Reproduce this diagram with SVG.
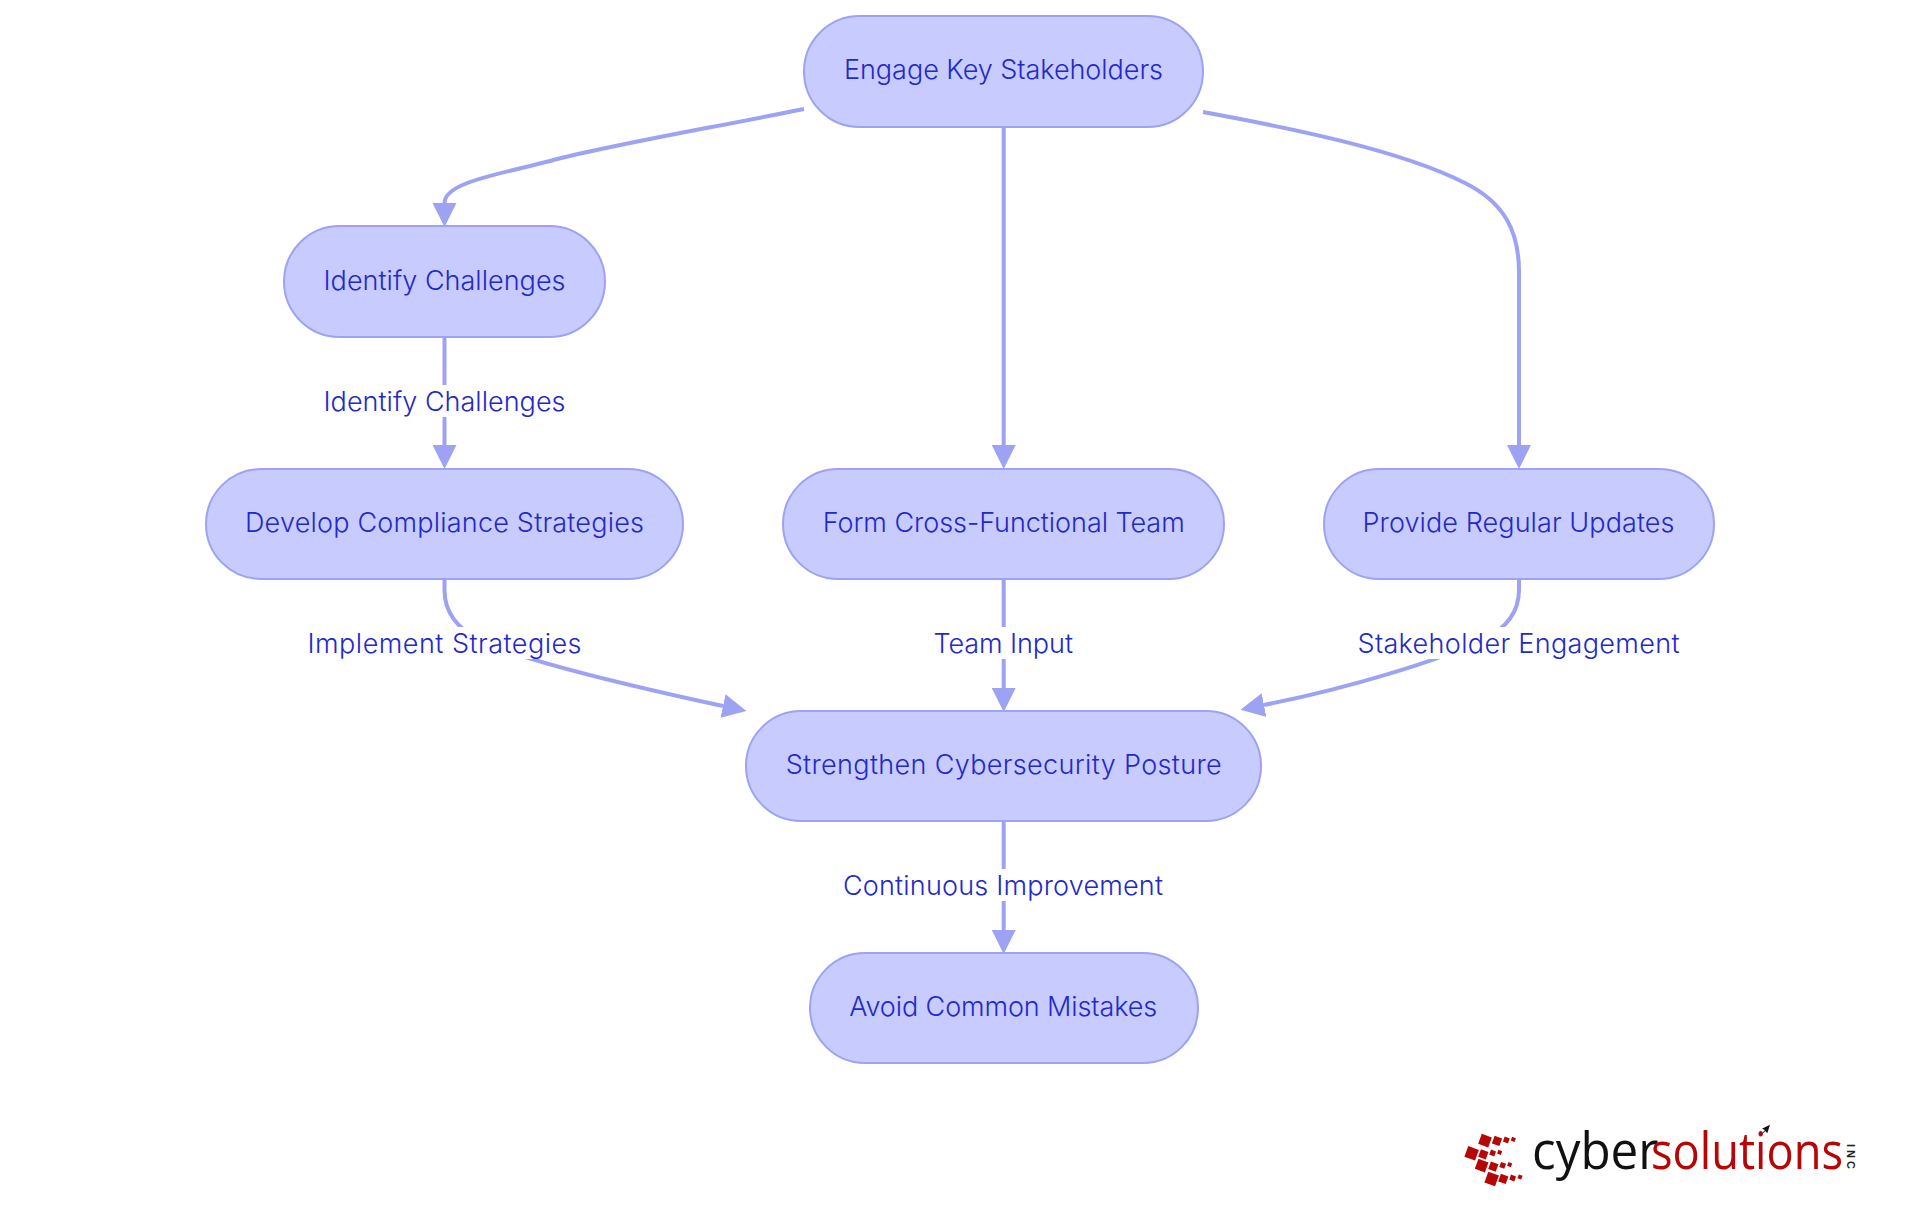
<svg xmlns="http://www.w3.org/2000/svg" width="1920" height="1215" viewBox="0 0 1920 1215">
<style>
.n{fill:#c8cbfd;stroke:#9ea2f2;stroke-width:2}
.c{fill:none;stroke:#9ea2f2;stroke-width:4;marker-end:url(#a)}
.t{font-family:Inter,"Noto Sans","Liberation Sans",sans-serif;font-size:27px;font-weight:300;fill:#2329c9;text-anchor:middle;dominant-baseline:central}
.l{fill:#fff}
.r{fill:#b70606}
.w{font-family:"Open Sans","Liberation Sans",sans-serif;font-weight:400;font-size:52px}
</style>
<defs><marker id="a" markerUnits="userSpaceOnUse" markerWidth="24" markerHeight="24" refX="0" refY="12" orient="auto"><path d="M0 0L24 12L0 24Z" fill="#9ea2f2"/></marker></defs>
<rect width="1920" height="1215" fill="#fff"/>
<g id="connectors">
<path class="c" d="M804 109C700 130 610 145 550 161C495 175 444.5 183 444.5 203"/>
<path class="c" d="M1003.7 127V445"/>
<path class="c" d="M1203 112C1290 128 1400 150 1465 183C1505 203 1519 232 1519 272V445"/>
<path class="c" d="M444.5 338V445"/>
<path class="c" d="M444.5 580V590C444.5 615 460 630 480 640C520 660 640 688 723 706"/>
<path class="c" d="M1003.7 580V688"/>
<path class="c" d="M1519 580V590C1519 615 1503 630 1483 640C1440 660 1350 688 1264 705"/>
<path class="c" d="M1003.7 821V930"/>
</g>
<g id="edge-labels">
<g id="label-identify"><rect class="l" x="323" y="385" width="243" height="32"/><text class="t" x="444.5" y="401" textLength="242">Identify Challenges</text></g>
<g id="label-implement"><rect class="l" x="307" y="627" width="275" height="32"/><text class="t" x="444.5" y="643" textLength="274">Implement Strategies</text></g>
<g id="label-team"><rect class="l" x="933" y="627" width="141" height="32"/><text class="t" x="1003.2" y="643" textLength="139.5">Team Input</text></g>
<g id="label-stakeholder"><rect class="l" x="1357" y="627" width="323" height="32"/><text class="t" x="1518.5" y="643" textLength="322">Stakeholder Engagement</text></g>
<g id="label-continuous"><rect class="l" x="843" y="869" width="322" height="32"/><text class="t" x="1003" y="885" textLength="320">Continuous Improvement</text></g>
</g>
<g id="node-engage"><rect class="n" x="804" y="16" width="399" height="111" rx="55.5"/><text class="t" x="1003.5" y="69" textLength="319">Engage Key Stakeholders</text></g>
<g id="node-identify"><rect class="n" x="284" y="226" width="321" height="111" rx="55.5"/><text class="t" x="444.5" y="280" textLength="242">Identify Challenges</text></g>
<g id="node-develop"><rect class="n" x="206" y="469" width="477" height="110" rx="55"/><text class="t" x="444.5" y="522" textLength="399">Develop Compliance Strategies</text></g>
<g id="node-form"><rect class="n" x="783" y="469" width="441" height="110" rx="55"/><text class="t" x="1003.7" y="522" textLength="362">Form Cross-Functional Team</text></g>
<g id="node-provide"><rect class="n" x="1324" y="469" width="390" height="110" rx="55"/><text class="t" x="1518.5" y="522" textLength="312">Provide Regular Updates</text></g>
<g id="node-strengthen"><rect class="n" x="746" y="711" width="515" height="110" rx="55"/><text class="t" x="1003.7" y="764" textLength="436">Strengthen Cybersecurity Posture</text></g>
<g id="node-avoid"><rect class="n" x="810" y="953" width="388" height="110" rx="55"/><text class="t" x="1003.2" y="1006" textLength="308">Avoid Common Mistakes</text></g>
<g id="logo">
<g transform="translate(1440 1110) scale(.3333)">
<rect class="r" x="-16" y="-16" width="32" height="32" transform="translate(135 92) rotate(20)"/>
<rect class="r" x="-12" y="-12" width="24" height="24" transform="translate(171 93) rotate(20)"/>
<rect class="r" x="-8" y="-8" width="16" height="16" transform="translate(199 90) rotate(20)"/>
<rect class="r" x="-6" y="-6" width="12" height="12" transform="translate(220 88) rotate(20)"/>
<rect class="r" x="-17" y="-17" width="34" height="34" transform="translate(95 130) rotate(20)"/>
<rect class="r" x="-12" y="-12" width="24" height="24" transform="translate(130 133) rotate(20)"/>
<rect class="r" x="-8" y="-8" width="16" height="16" transform="translate(158 129) rotate(20)"/>
<rect class="r" x="-6" y="-6" width="12" height="12" transform="translate(179 127) rotate(20)"/>
<rect class="r" x="-16" y="-16" width="32" height="32" transform="translate(125 167) rotate(20)"/>
<rect class="r" x="-12" y="-12" width="24" height="24" transform="translate(160 170) rotate(20)"/>
<rect class="r" x="-8" y="-8" width="16" height="16" transform="translate(188 166) rotate(20)"/>
<rect class="r" x="-6" y="-6" width="12" height="12" transform="translate(209 164) rotate(20)"/>
<rect class="r" x="-17" y="-17" width="34" height="34" transform="translate(155 207) rotate(20)"/>
<rect class="r" x="-12" y="-12" width="24" height="24" transform="translate(190 207) rotate(20)"/>
<rect class="r" x="-8" y="-8" width="16" height="16" transform="translate(218 204) rotate(20)"/>
<rect class="r" x="-6" y="-6" width="12" height="12" transform="translate(240 201) rotate(20)"/>
<path d="M957 82L975 60L966 56L990 44L982 70L976 63Z" fill="#111"/>
</g>
<text class="w" transform="translate(1532 1169) scale(.95 1)" fill="#111">cyber</text>
<text class="w" transform="translate(1651 1169) scale(.87 1)" fill="#b70606">solutions</text>
<text font-family="Liberation Sans,sans-serif" font-size="11" font-weight="700" fill="#222" transform="translate(1847 1144) rotate(90)" textLength="25">INC</text>
</g>
</svg>
